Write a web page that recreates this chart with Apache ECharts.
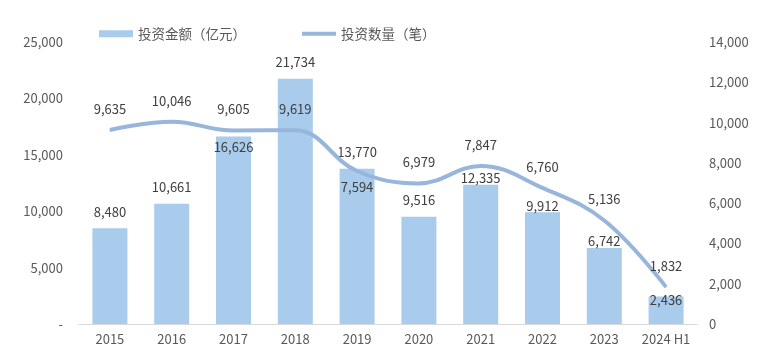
<!DOCTYPE html>
<html><head><meta charset="utf-8">
<script src="https://cdn.jsdelivr.net/npm/echarts@6/dist/echarts.min.js"></script>
<style>html,body{margin:0;padding:0;background:#fff}#c{width:775px;height:364px}</style>
</head><body><div id="c"></div>
<script>
const categories = ['2015','2016','2017','2018','2019','2020','2021','2022','2023','2024 H1'];
const amountValues = [8480,10661,16626,21734,13770,9516,12335,9912,6742,2436];
const countValues = [9635,10046,9605,9619,7594,6979,7847,6760,5136,1832];
const leftTicks = [0,5000,10000,15000,20000,25000];
const rightTicks = [0,2000,4000,6000,8000,10000,12000,14000];
const seriesNames = ['投资金额（亿元）','投资数量（笔）'];

// label placement tweaks (style only), keyed by category index
const barLabelTweaks = {
  2:{position:'insideTop', distance:4},
  6:{distance:0}, 7:{distance:0}, 8:{distance:0},
  9:{distance:-10}
};
const lineLabelTweaks = { 4:{position:'bottom', distance:9} };

const fmt = v => v.toLocaleString('en-US');
const font = '"Noto Sans CJK SC", "Noto Sans", sans-serif';
const chart = echarts.init(document.getElementById('c'));
chart.setOption({
  animation:false,
  textStyle:{fontFamily:font},
  legend:{
    top:22, left:94, itemGap:56, itemWidth:34, itemHeight:7,
    textStyle:{color:'#595959', fontSize:13.5, fontFamily:font},
    data:[{name:seriesNames[0], icon:'rect'},{name:seriesNames[1], icon:'path://M0,0 H36 V4 H0 Z'}]
  },
  grid:{left:79, right:78, top:42, bottom:40},
  xAxis:{
    type:'category', data:categories,
    axisLine:{lineStyle:{color:'#d9d9d9'}},
    axisTick:{show:false},
    axisLabel:{color:'#595959', fontSize:13, margin:9, interval:0, fontFamily:font}
  },
  yAxis:[{
    type:'value', min:leftTicks[0], max:leftTicks[leftTicks.length-1], interval:5000,
    splitLine:{show:false}, axisLine:{show:false}, axisTick:{show:false},
    axisLabel:{color:'#595959', fontSize:13, margin:16, fontFamily:font,
      formatter:v => v===0 ? '-' : fmt(v)}
  },{
    type:'value', min:rightTicks[0], max:rightTicks[rightTicks.length-1], interval:2000,
    splitLine:{show:false}, axisLine:{show:false}, axisTick:{show:false},
    axisLabel:{color:'#595959', fontSize:13, margin:12, fontFamily:font,
      formatter:v => fmt(v)}
  }],
  series:[{
    name:seriesNames[0], type:'bar', yAxisIndex:0,
    data:amountValues.map((v,i) => barLabelTweaks[i] ? {value:v, label:barLabelTweaks[i]} : v),
    barWidth:35, z:2,
    itemStyle:{color:'#A9CBEC'},
    label:{show:true, position:'top', distance:10, color:'#404040', fontSize:13, fontFamily:font,
      formatter:p => fmt(p.value)}
  },{
    name:seriesNames[1], type:'line', yAxisIndex:1,
    data:countValues.map((v,i) => lineLabelTweaks[i] ? {value:v, label:lineLabelTweaks[i]} : v),
    smooth:0.4, symbol:'circle', symbolSize:1, showSymbol:true, z:3,
    lineStyle:{color:'#98B5DB', width:4},
    itemStyle:{color:'#98B5DB'},
    label:{show:true, position:'top', distance:14, color:'#404040', fontSize:13, fontFamily:font,
      formatter:p => fmt(p.value)}
  }]
});
</script></body></html>
